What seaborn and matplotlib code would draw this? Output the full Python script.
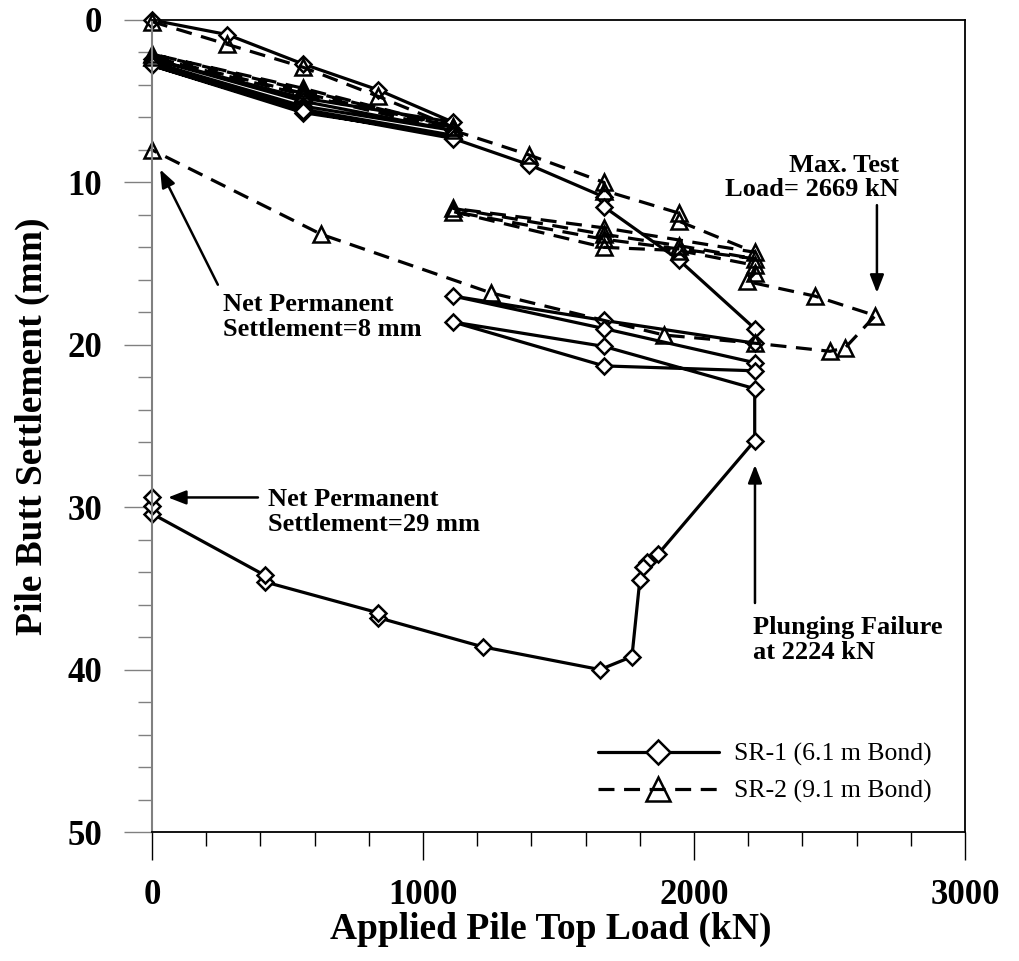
import matplotlib
matplotlib.use("Agg")
import matplotlib.pyplot as plt
import seaborn as sns

# ---- data ----
load_sr1 = [0, 278, 556, 834, 1112, 556, 0, 556, 1112, 556, 0, 556, 1112, 556, 0, 556, 1112,
            1390, 1668, 1668, 1946, 2224, 2224, 1668, 1112, 1668, 2224, 2224, 1668, 1112, 1668,
            2224, 2224, 1867, 1826, 1812, 1800, 1771, 1653, 1221, 834, 834, 417, 417, 0, 0, 0]
settle_sr1 = [0.0, 0.9, 2.7, 4.3, 6.3, 4.8, 2.4, 5.0, 6.8, 5.3, 2.6, 5.5, 7.1, 5.7, 2.8, 5.6, 7.3,
              8.9, 10.9, 11.5, 14.8, 19.0, 19.9, 18.5, 17.0, 19.0, 21.1, 21.6, 21.3, 18.6, 20.1,
              22.7, 25.9, 32.9, 33.4, 33.7, 34.5, 39.2, 40.0, 38.6, 36.8, 36.5, 34.6, 34.2, 30.4, 29.9, 29.4]

load_sr2 = [0, 278, 556, 834, 1112, 556, 0, 556, 1112, 556, 0, 556, 1112, 1390, 1668, 1668,
            1946, 1946, 2224, 1668, 1112, 1668, 1946, 2224, 1668, 1112, 1668, 1946, 2224, 2224,
            2195, 2446, 2669, 2557, 2502, 2224, 1890, 1250, 625, 0]
settle_sr2 = [0.1, 1.5, 2.9, 4.7, 6.6, 4.3, 2.1, 4.2, 6.6, 4.5, 2.3, 4.6, 6.8, 8.3, 10.0, 10.5,
              11.9, 12.4, 14.3, 12.8, 11.6, 13.2, 13.9, 14.7, 13.5, 11.8, 14.0, 14.2, 15.1, 15.6,
              16.1, 17.0, 18.2, 20.2, 20.4, 19.9, 19.4, 16.8, 13.2, 8.0]

series_labels = ["SR-1 (6.1 m Bond)", "SR-2 (9.1 m Bond)"]
x_ticks = [0, 1000, 2000, 3000]
y_ticks = [0, 10, 20, 30, 40, 50]
x_label = "Applied Pile Top Load (kN)"
y_label = "Pile Butt Settlement (mm)"

sns.set_theme(style="white")
plt.rcParams["font.family"] = ["Liberation Serif", "DejaVu Serif"]
plt.rcParams["text.color"] = "black"
plt.rcParams["axes.labelcolor"] = "black"
plt.rcParams["xtick.color"] = "black"
plt.rcParams["ytick.color"] = "black"

fig = plt.figure(figsize=(10.19, 9.61), dpi=100)
ax = fig.add_axes([152 / 1019, 1 - 832 / 961, 813 / 1019, 812 / 961])

sns.lineplot(x=load_sr1, y=settle_sr1, sort=False, estimator=None, ax=ax,
             color="black", linewidth=2.3, marker="D", markersize=8.5,
             markerfacecolor="white", markeredgecolor="black", markeredgewidth=1.8,
             label=series_labels[0], clip_on=False)
sns.lineplot(x=load_sr2, y=settle_sr2, sort=False, estimator=None, ax=ax,
             color="black", linewidth=2.3, linestyle="--", marker="^", markersize=12,
             markerfacecolor="none", markeredgecolor="black", markeredgewidth=1.8,
             label=series_labels[1], clip_on=False)
ax.lines[1].set_dashes((5, 3))

ax.set_xlim(0, 3000)
ax.set_ylim(50, 0)
ax.set_xticks(x_ticks)
ax.set_yticks(y_ticks)
ax.set_xticks(range(0, 3001, 200), minor=True)
ax.set_yticks(range(0, 51, 2), minor=True)

for s in ["top", "right", "bottom"]:
    ax.spines[s].set_color("black")
    ax.spines[s].set_linewidth(1.3)
ax.spines["left"].set_color("#808080")
ax.spines["left"].set_linewidth(1.5)

ax.tick_params(axis="both", which="major", direction="out", length=20, width=1.0,
               labelsize=25, bottom=True, left=True)
ax.tick_params(axis="both", which="minor", direction="out", length=10, width=1.0,
               bottom=True, left=True)
ax.tick_params(axis="x", which="both", colors="black")
ax.tick_params(axis="x", which="major", pad=14)
ax.tick_params(axis="y", which="major", pad=16)
ax.tick_params(axis="y", which="both", color="#808080", labelcolor="black")
for lab in ax.get_xticklabels() + ax.get_yticklabels():
    lab.set_fontweight("bold")
    lab.set_color("black")

ax.set_xlabel(x_label, fontsize=27, fontweight="bold", color="black")
ax.set_ylabel(y_label, fontsize=27, fontweight="bold", color="black")
ax.xaxis.set_label_coords(0.49, -0.098)
ax.yaxis.set_label_coords(-0.125, 0.5)

leg = ax.legend(loc="center left", bbox_to_anchor=(598 / 1019, 1 - 773 / 961),
                bbox_transform=fig.transFigure, frameon=False, fontsize=18.5,
                handlelength=4.7, handletextpad=0.6, labelspacing=0.55,
                borderpad=0, borderaxespad=0, markerscale=1.4)
for t in leg.get_texts():
    t.set_color("black")

# ---- annotations ----
ann_kw = dict(fontsize=19, fontweight="bold", linespacing=1.1, color="black")
arrow = dict(arrowstyle="-|>,head_width=0.35,head_length=0.9", color="black", lw=1.8,
             shrinkA=0, shrinkB=0)

ax.text(2756, 9.7, "Max. Test\nLoad= 2669 kN", ha="right", va="center",
        multialignment="right", **ann_kw)
ax.annotate("", xy=(2675, 16.8), xytext=(2675, 11.4), arrowprops=arrow)

ax.text(262, 18.3, "Net Permanent\nSettlement=8 mm", ha="left", va="center", **ann_kw)
ax.annotate("", xy=(30, 9.2), xytext=(243, 16.3), arrowprops=arrow)

ax.text(428, 30.3, "Net Permanent\nSettlement=29 mm", ha="left", va="center", **ann_kw)
ax.annotate("", xy=(59, 29.4), xytext=(391, 29.4), arrowprops=arrow)

ax.text(2218, 38.2, "Plunging Failure\nat 2224 kN", ha="left", va="center", **ann_kw)
ax.annotate("", xy=(2225, 27.4), xytext=(2225, 35.9), arrowprops=arrow)

fig.savefig("out.png", dpi=100)
